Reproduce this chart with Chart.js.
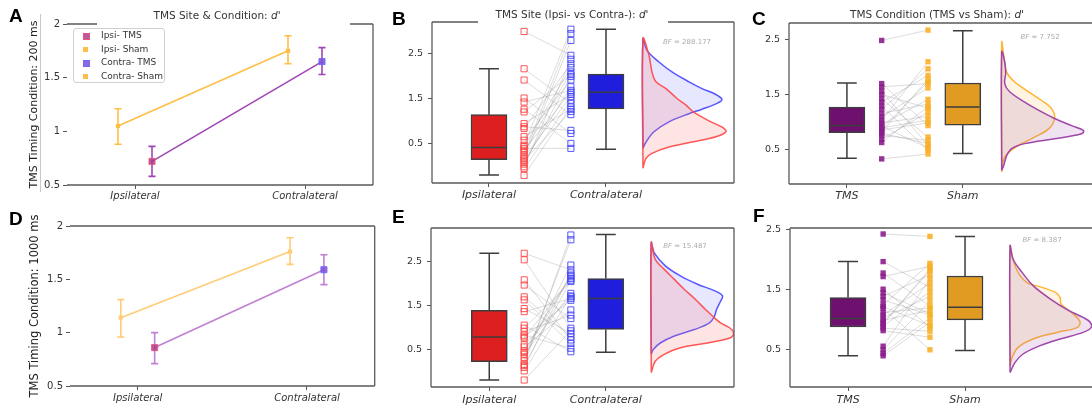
<!DOCTYPE html>
<html lang="en">
<head>
  <meta charset="UTF-8" />
  <title>TMS site and condition: d'</title>
  <script src="https://cdn.jsdelivr.net/npm/chart.js"></script>
  <style>
    body {
      margin: 0;
      width: 1092px;
      height: 408px;
      overflow: hidden;
      position: relative;
      background: #fff;
      font-family: "DejaVu Sans", sans-serif;
    }
    canvas, .lbl { position: absolute; }
    .letter {
      font-family: "Liberation Sans", Arial, sans-serif;
      font-weight: bold;
      font-size: 19px;
      line-height: 19px;
      color: #000;
    }
    .ttl {
      font-size: 10.5px;
      line-height: 14px;
      color: #333;
      white-space: nowrap;
      transform: translateX(-50%);
    }
    .bf {
      font-size: 7px;
      line-height: 8px;
      color: #aaa;
      white-space: nowrap;
      transform: translateX(-50%);
    }
    .legend {
      position: absolute;
      left: 73px; top: 28px;
      width: 92px; height: 55px;
      border: 1px solid #d0d0d0;
      border-radius: 3px;
      background: #fff;
      font-size: 9px;
      color: #333;
      box-sizing: border-box;
    }
    .legend div { height: 13.6px; line-height: 13.6px; padding-left: 27px; position: relative; }
    .legend span {
      position: absolute; left: 9px; top: 4px;
      width: 5px; height: 5px;
    }
    .sep { position: absolute; left: 40px; top: 14px; height: 178px; border-left: 1px solid #c8c8c8; }
  </style>
</head>
<body>
  <canvas id="cA" width="356" height="205" style="left:24px;top:0px"></canvas>
  <canvas id="cD" width="356" height="205" style="left:24px;top:203px"></canvas>
  <canvas id="cB" width="350" height="205" style="left:390px;top:0px"></canvas>
  <canvas id="cE" width="350" height="205" style="left:390px;top:203px"></canvas>
  <canvas id="cC" width="360" height="205" style="left:750px;top:0px"></canvas>
  <canvas id="cF" width="360" height="205" style="left:750px;top:203px"></canvas>

  <div class="sep"></div>

  <div class="lbl letter" style="left:9px;top:6px">A</div>
  <div class="lbl letter" style="left:392px;top:9px">B</div>
  <div class="lbl letter" style="left:752px;top:9px">C</div>
  <div class="lbl letter" style="left:9px;top:209px">D</div>
  <div class="lbl letter" style="left:392px;top:207px">E</div>
  <div class="lbl letter" style="left:753px;top:206px">F</div>

  <div class="lbl ttl" style="left:217px;top:8px">TMS Site &amp; Condition: <i>d'</i></div>
  <div class="lbl ttl" style="left:572px;top:7px">TMS Site (Ipsi- vs Contra-): <i>d'</i></div>
  <div class="lbl ttl" style="left:937px;top:7px">TMS Condition (TMS vs Sham): <i>d'</i></div>

  <div class="lbl bf" id="bfB" style="left:687px;top:38px"></div>
  <div class="lbl bf" id="bfC" style="left:1040px;top:33px"></div>
  <div class="lbl bf" id="bfE" style="left:685px;top:242px"></div>
  <div class="lbl bf" id="bfF" style="left:1042px;top:236px"></div>

  <div class="legend" id="legendA"></div>

  <script>
    // ---------- data ----------
    const sites = ['Ipsilateral', 'Contralateral'];
    const conditions = ['TMS', 'Sham'];
    const legendLabels = ['Ipsi- TMS', 'Ipsi- Sham', 'Contra- TMS', 'Contra- Sham'];

    // group means with error-bar limits, per site [ipsi, contra]
    const tmsMean200 = [0.72, 1.65];
    const tmsErr200 = [[0.58, 0.86], [1.53, 1.78]];
    const shamMean200 = [1.05, 1.75];
    const shamErr200 = [[0.88, 1.21], [1.63, 1.89]];
    const tmsMean1000 = [0.86, 1.59];
    const tmsErr1000 = [[0.71, 1.00], [1.45, 1.73]];
    const shamMean1000 = [1.14, 1.76];
    const shamErr1000 = [[0.96, 1.31], [1.64, 1.89]];
    const meanTicks = [0.5, 1, 1.5, 2];
    const cloudTicks = [0.5, 1.5, 2.5];

    // per-subject d' (index i is the same subject in both lists)
    const ipsi200 = [3.00, 2.17, 1.92, 1.52, 1.43, 1.27, 1.21, 0.95, 0.88, 0.84, 0.66, 0.58, 0.47,
                     0.40, 0.32, 0.21, 0.17, 0.10, -0.01, -0.05, -0.20, 0.25, 0.05, 0.36, 0.14, 0.44];
    const contra200 = [2.47, 1.40, 1.15, 0.73, 1.69, 0.51, 2.04, 1.60, 0.80, 2.28, 1.27, 1.92, 3.05,
                       0.40, 2.10, 1.55, 2.80, 1.77, 2.38, 1.47, 1.32, 2.95, 2.00, 1.65, 1.22, 2.20];
    const ipsi1000 = [2.70, 2.55, 2.09, 1.97, 1.70, 1.63, 1.43, 1.36, 1.05, 0.98, 0.90, 0.82, 0.75,
                      0.55, 0.46, 0.38, 0.31, 0.23, 0.15, 0.08, 0.00, -0.21, 0.60, 0.12, 0.78, 0.42];
    const contra1000 = [2.32, 0.98, 0.71, 1.20, 0.78, 0.63, 0.86, 1.66, 0.44, 2.05, 1.28, 0.52, 2.12,
                        1.40, 2.20, 1.78, 2.43, 3.01, 3.12, 2.25, 1.72, 0.92, 1.70, 2.08, 1.62, 2.16];
    const tms200 = [2.49, 1.70, 1.64, 1.56, 1.50, 1.42, 1.36, 1.29, 1.23, 1.15, 1.09, 1.03, 0.95, 0.89,
                    0.81, 0.75, 0.68, 0.62, 0.32, 0.87, 0.92, 0.98, 0.85, 0.79];
    const sham200 = [2.68, 0.93, 1.70, 0.57, 1.25, 0.72, 1.85, 0.48, 1.97, 1.33, 1.62, 2.10, 1.41, 1.03,
                     1.78, 0.66, 1.18, 1.28, 0.41, 1.73, 0.52, 1.10, 0.98, 0.60];
    const tms1000 = [2.43, 1.97, 1.78, 1.72, 1.51, 1.39, 1.33, 1.25, 1.19, 1.08, 1.03, 0.99, 0.89, 0.82,
                     0.56, 0.50, 0.44, 0.40, 1.12, 0.95, 0.86, 1.45, 1.22, 0.93];
    const sham1000 = [2.39, 1.54, 1.23, 1.89, 0.88, 1.75, 1.08, 1.94, 0.50, 1.61, 1.39, 1.16, 1.47, 0.71,
                      1.68, 1.31, 1.03, 0.96, 1.20, 1.82, 0.81, 1.10, 0.90, 1.85];

    // box stats: [low whisker, q1, median, q3, high whisker]
    const ipsiBox200 = [-0.19, 0.15, 0.42, 1.15, 2.17];
    const contraBox200 = [0.38, 1.28, 1.65, 2.05, 3.05];
    const ipsiBox1000 = [-0.21, 0.21, 0.78, 1.39, 2.70];
    const contraBox1000 = [0.43, 0.95, 1.66, 2.12, 3.13];
    const tmsBox200 = [0.33, 0.80, 0.93, 1.27, 1.71];
    const shamBox200 = [0.42, 0.94, 1.27, 1.71, 2.67];
    const tmsBox1000 = [0.40, 0.88, 1.02, 1.37, 1.97];
    const shamBox1000 = [0.49, 1.00, 1.21, 1.73, 2.39];

    // half-violin densities: d' levels and the density at each level
    const ipsiLv200 = [-0.04, 0.18, 0.29, 0.43, 0.54, 0.66, 0.77, 0.86, 0.99, 1.20, 1.36, 1.51, 1.73, 1.88, 2.10, 2.47, 2.84];
    const ipsiDen200 = [0, 0.03, 0.09, 0.26, 0.49, 0.73, 0.83, 0.80, 0.68, 0.51, 0.43, 0.34, 0.23, 0.13, 0.09, 0.06, 0];
    const contraLv200 = [0.40, 0.54, 0.77, 0.99, 1.17, 1.27, 1.40, 1.49, 1.62, 1.73, 1.88, 2.10, 2.32, 2.58, 2.84];
    const contraDen200 = [0, 0.03, 0.11, 0.26, 0.46, 0.59, 0.74, 0.79, 0.71, 0.59, 0.46, 0.29, 0.16, 0.04, 0];
    const ipsiLv1000 = [-0.04, 0.22, 0.38, 0.53, 0.64, 0.76, 0.87, 0.99, 1.10, 1.26, 1.41, 1.64, 1.87, 2.10, 2.33, 2.56, 2.94];
    const ipsiDen1000 = [0, 0.04, 0.13, 0.29, 0.56, 0.79, 0.82, 0.78, 0.69, 0.61, 0.54, 0.44, 0.33, 0.23, 0.13, 0.04, 0];
    const contraLv1000 = [0.38, 0.49, 0.64, 0.80, 0.95, 1.10, 1.26, 1.41, 1.60, 1.72, 1.83, 1.99, 2.18, 2.41, 2.71, 2.94];
    const contraDen1000 = [0, 0.02, 0.09, 0.23, 0.43, 0.58, 0.63, 0.65, 0.69, 0.71, 0.64, 0.46, 0.29, 0.14, 0.03, 0];
    const tmsLv200 = [0.11, 0.20, 0.38, 0.51, 0.60, 0.69, 0.78, 0.84, 0.93, 1.06, 1.18, 1.36, 1.55, 1.70, 1.90, 2.10, 2.28];
    const tmsDen200 = [0, 0.02, 0.05, 0.10, 0.23, 0.53, 0.80, 0.82, 0.70, 0.53, 0.40, 0.23, 0.08, 0.03, 0.04, 0.03, 0];
    const shamLv200 = [0.08, 0.32, 0.44, 0.57, 0.72, 0.87, 1.06, 1.24, 1.39, 1.55, 1.73, 1.91, 2.22, 2.46];
    const shamDen200 = [0, 0.02, 0.07, 0.17, 0.33, 0.47, 0.53, 0.50, 0.40, 0.27, 0.13, 0.05, 0.02, 0];
    const tmsLv1000 = [0.12, 0.29, 0.43, 0.57, 0.68, 0.79, 0.87, 0.96, 1.04, 1.16, 1.35, 1.57, 1.79, 2.01, 2.23];
    const tmsDen1000 = [0, 0.05, 0.13, 0.30, 0.50, 0.73, 0.81, 0.80, 0.73, 0.58, 0.40, 0.23, 0.12, 0.03, 0];
    const shamLv1000 = [0.23, 0.37, 0.54, 0.68, 0.79, 0.87, 0.96, 1.07, 1.18, 1.26, 1.37, 1.46, 1.54, 1.62, 1.79, 2.01, 2.23];
    const shamDen1000 = [0, 0.02, 0.08, 0.23, 0.47, 0.67, 0.70, 0.65, 0.57, 0.51, 0.50, 0.45, 0.32, 0.17, 0.08, 0.03, 0];

    // Bayes factors printed beside the densities
    const bayesFactors = { B: '288.177', C: '7.752', E: '15.487', F: '8.387' };

    // ---------- drawing ----------
    const FONT = '"DejaVu Sans", sans-serif';
    const EDGE = '#3d3d3d';
    const RED = 'rgba(255,70,70,0.9)', BLUE = 'rgba(70,70,255,0.9)';

    // axis spines drawn by hand so the top edge can break behind a title
    const frame = {
      id: 'frame',
      defaults: { color: '#5a5a5a', width: 1.3, left: true, topGaps: [] },
      afterDraw(chart, args, o) {
        const { ctx, chartArea: a } = chart;
        ctx.save();
        ctx.strokeStyle = o.color;
        ctx.lineWidth = o.width;
        ctx.beginPath();
        let x0 = a.left;
        o.topGaps.forEach(([g0, g1]) => {
          ctx.moveTo(x0, a.top); ctx.lineTo(a.left + g0, a.top); x0 = a.left + g1;
        });
        ctx.moveTo(x0, a.top); ctx.lineTo(a.right, a.top);
        ctx.moveTo(a.left, a.bottom); ctx.lineTo(a.right, a.bottom);
        ctx.moveTo(a.right, a.top); ctx.lineTo(a.right, a.bottom);
        if (o.left) { ctx.moveTo(a.left, a.top); ctx.lineTo(a.left, a.bottom); }
        ctx.stroke();
        ctx.restore();
      }
    };

    function scales(p) {
      return {
        x: {
          type: 'linear', min: p.x[0], max: p.x[1], offset: false,
          border: { display: false },
          grid: { drawOnChartArea: false, offset: false, color: '#555', tickLength: 4 },
          ticks: {
            autoSkip: false, maxRotation: 0, padding: p.xPad, color: '#333',
            font: { family: FONT, size: p.xFont, style: 'italic' },
            callback: v => p.names[v]
          },
          afterBuildTicks: s => { s.ticks = p.names.map((n, i) => ({ value: i })); },
          afterFit: s => { s.height = p.xh; }
        },
        y: {
          type: 'linear', min: p.y[0], max: p.y[1],
          border: { display: false },
          grid: { drawOnChartArea: false, offset: false, color: '#555', tickLength: 4 },
          ticks: {
            autoSkip: false, padding: p.yPad, color: '#333',
            font: { family: FONT, size: p.yFont },
            callback: v => String(v)
          },
          title: p.yTitle
            ? { display: true, text: p.yTitle, color: '#222', font: { family: FONT, size: p.yTitleSize }, padding: { top: 4, bottom: 4 } }
            : { display: false },
          afterBuildTicks: s => { s.ticks = p.yTicks.map(v => ({ value: v })); },
          afterFit: s => { s.width = p.yw; }
        }
      };
    }

    function options(p) {
      return {
        responsive: false,
        animation: false,
        events: [],
        layout: { padding: { top: p.pt, right: p.pr, left: 0, bottom: 0 } },
        plugins: {
          legend: { display: false },
          tooltip: { enabled: false },
          frame: { left: p.leftSpine, topGaps: p.gaps || [] }
        },
        scales: scales(p)
      };
    }

    // error bar stems and caps as one broken line
    function errorPath(errs, dx, cap) {
      const pts = [];
      errs.forEach((e, i) => {
        const x = i + dx;
        pts.push({ x, y: e[0] }, { x, y: e[1] }, { x, y: null },
                 { x: x - cap, y: e[0] }, { x: x + cap, y: e[0] }, { x, y: null },
                 { x: x - cap, y: e[1] }, { x: x + cap, y: e[1] }, { x, y: null });
      });
      return pts;
    }

    function meansChart(id, p) {
      const off = 0.1, cap = 0.021;
      const line = (data, color, order) => ({
        type: 'line', data, borderColor: color, borderWidth: 1.6, pointRadius: 0, tension: 0, order
      });
      const mark = (x, y, fill, edge, r) => ({
        type: 'scatter', data: [{ x, y }], pointStyle: 'rect', pointRadius: r,
        backgroundColor: fill, borderColor: edge, borderWidth: edge ? 1 : 0, order: 1
      });
      new Chart(document.getElementById(id), {
        type: 'scatter',
        data: {
          datasets: [
            line(p.sham.map((m, i) => ({ x: i - off, y: m })), p.shamCol, 6),
            line(p.tms.map((m, i) => ({ x: i + off, y: m })), p.tmsCol, 5),
            line(errorPath(p.shamErr, -off, cap), p.shamCol, 4),
            line(errorPath(p.tmsErr, off, cap), p.tmsCol, 3),
            mark(-off, p.sham[0], p.shamCol, null, 3),
            mark(1 - off, p.sham[1], p.shamCol, null, 3),
            mark(off, p.tms[0], 'rgba(175,60,140,0.85)', 'rgba(235,85,120,0.9)', 4.3),
            mark(1 + off, p.tms[1], 'rgba(125,80,215,0.85)', 'rgba(105,105,255,0.9)', 4.3)
          ]
        },
        options: options(p),
        plugins: [frame]
      });
    }

    function cloudChart(id, p) {
      const cap = 0.085, half = 0.145;
      const datasets = [];

      // paired subject lines between the two point columns
      const pairs = [];
      p.a.forEach((v, i) => {
        pairs.push({ x: p.jit[0], y: v }, { x: p.jit[1], y: p.b[i] }, { x: p.jit[1], y: null });
      });
      datasets.push({ type: 'line', data: pairs, borderColor: 'rgba(140,140,140,0.3)', borderWidth: 1, pointRadius: 0, order: 9 });

      // half-violin densities to the right of the boxes
      p.dens.forEach((d, k) => {
        const pts = d.lv.map((y, i) => ({ x: p.base + d.v[i] * p.dScale, y }));
        pts.push({ x: p.base, y: d.lv[0] });
        datasets.push({
          type: 'line', data: pts, borderColor: p.denLine[k], backgroundColor: p.denFill[k],
          fill: 'shape', borderWidth: 1.5, pointRadius: 0, tension: 0.35, order: 7 + k
        });
      });

      // boxes (q1..q3)
      datasets.push({
        type: 'bar', data: p.box.map((s, i) => ({ x: i, y: [s[1], s[3]] })),
        backgroundColor: p.boxCol, borderColor: EDGE, borderWidth: 1.5, borderSkipped: false,
        barThickness: 36, order: 4
      });

      // whiskers, caps and medians
      const wk = [];
      p.box.forEach((s, x) => {
        wk.push({ x, y: s[0] }, { x, y: s[1] }, { x, y: null },
                { x, y: s[3] }, { x, y: s[4] }, { x, y: null },
                { x: x - cap, y: s[0] }, { x: x + cap, y: s[0] }, { x, y: null },
                { x: x - cap, y: s[4] }, { x: x + cap, y: s[4] }, { x, y: null },
                { x: x - half, y: s[2] }, { x: x + half, y: s[2] }, { x, y: null });
      });
      datasets.push({ type: 'line', data: wk, borderColor: EDGE, borderWidth: 1.5, pointRadius: 0, order: 3 });

      // subject points
      [p.a, p.b].forEach((vals, k) => {
        datasets.push({
          type: 'scatter', data: vals.map(y => ({ x: p.jit[k], y })), pointStyle: 'rect',
          pointRadius: p.hollow ? 4.3 : 3.8,
          backgroundColor: p.hollow ? 'rgba(255,255,255,0)' : p.ptCol[k],
          borderColor: p.ptCol[k], borderWidth: p.hollow ? 1 : 0, order: 1
        });
      });

      new Chart(document.getElementById(id), {
        type: 'scatter',
        data: { datasets },
        options: options(p),
        plugins: [frame]
      });
    }

    const shamLine200 = 'rgb(255,190,70)', tmsLine200 = 'rgb(160,70,180)';
    const shamLine1000 = 'rgb(255,204,120)', tmsLine1000 = 'rgb(192,128,212)';

    meansChart('cA', {
      sham: shamMean200, shamErr: shamErr200, tms: tmsMean200, tmsErr: tmsErr200,
      shamCol: shamLine200, tmsCol: tmsLine200,
      names: sites, x: [-0.4, 1.4], y: [0.5, 2], yTicks: meanTicks,
      yw: 43, xh: 20, pt: 24, pr: 7, xPad: 1, yPad: 3, xFont: 10, yFont: 10,
      yTitle: 'TMS Timing Condition: 200 ms', yTitleSize: 11,
      leftSpine: false, gaps: [[30, 283]]
    });
    meansChart('cD', {
      sham: shamMean1000, shamErr: shamErr1000, tms: tmsMean1000, tmsErr: tmsErr1000,
      shamCol: shamLine1000, tmsCol: tmsLine1000,
      names: sites, x: [-0.4, 1.4], y: [0.5, 2], yTicks: meanTicks,
      yw: 46, xh: 22, pt: 23, pr: 5, xPad: 2, yPad: 3, xFont: 10, yFont: 10,
      yTitle: 'TMS Timing Condition: 1000 ms', yTitleSize: 11.5,
      leftSpine: false
    });

    const siteDen = { line: [RED, BLUE], fill: ['rgba(255,120,120,0.2)', 'rgba(110,110,255,0.17)'] };
    const condDen = { line: ['rgb(160,70,170)', 'rgb(255,180,50)'], fill: ['rgba(160,90,180,0.17)', 'rgba(255,200,110,0.2)'] };

    cloudChart('cB', {
      a: ipsi200, b: contra200, box: [ipsiBox200, contraBox200],
      dens: [{ lv: ipsiLv200, v: ipsiDen200 }, { lv: contraLv200, v: contraDen200 }],
      boxCol: ['#dd1e1e', '#1e1edc'], ptCol: [RED, BLUE], hollow: true,
      denLine: siteDen.line, denFill: siteDen.fill,
      jit: [0.3, 0.7], base: 1.316, dScale: 0.855,
      names: sites, x: [-0.487, 2.094], y: [-0.37, 3.21], yTicks: cloudTicks,
      yw: 42, xh: 22, pt: 22, pr: 6, xPad: 2, yPad: 5, xFont: 11, yFont: 9.5,
      leftSpine: true, gaps: [[46, 236]]
    });
    cloudChart('cE', {
      a: ipsi1000, b: contra1000, box: [ipsiBox1000, contraBox1000],
      dens: [{ lv: ipsiLv1000, v: ipsiDen1000 }, { lv: contraLv1000, v: contraDen1000 }],
      boxCol: ['#dd1e1e', '#1e1edc'], ptCol: [RED, BLUE], hollow: true,
      denLine: siteDen.line, denFill: siteDen.fill,
      jit: [0.3, 0.7], base: 1.39, dScale: 0.862,
      names: sites, x: [-0.5, 2.1], y: [-0.37, 3.28], yTicks: cloudTicks,
      yw: 41, xh: 21, pt: 25, pr: 6, xPad: 3, yPad: 5, xFont: 11, yFont: 9.5,
      leftSpine: true
    });
    cloudChart('cC', {
      a: tms200, b: sham200, box: [tmsBox200, shamBox200],
      dens: [{ lv: tmsLv200, v: tmsDen200 }, { lv: shamLv200, v: shamDen200 }],
      boxCol: ['#6e106e', '#e19b23'], ptCol: ['rgba(140,30,140,0.9)', 'rgba(250,176,40,0.9)'], hollow: false,
      denLine: condDen.line, denFill: condDen.fill,
      jit: [0.3, 0.7], base: 1.336, dScale: 0.862,
      names: conditions, x: [-0.5, 2.15], y: [-0.14, 2.81], yTicks: cloudTicks,
      yw: 39, xh: 21, pt: 23, pr: 14, xPad: 2, yPad: 5, xFont: 11, yFont: 9.5,
      leftSpine: true
    });
    cloudChart('cF', {
      a: tms1000, b: sham1000, box: [tmsBox1000, shamBox1000],
      dens: [{ lv: tmsLv1000, v: tmsDen1000 }, { lv: shamLv1000, v: shamDen1000 }],
      boxCol: ['#6e106e', '#e19b23'], ptCol: ['rgba(140,30,140,0.9)', 'rgba(250,176,40,0.9)'], hollow: false,
      denLine: condDen.line, denFill: condDen.fill,
      jit: [0.3, 0.7], base: 1.385, dScale: 0.855,
      names: conditions, x: [-0.496, 2.128], y: [-0.12, 2.53], yTicks: cloudTicks,
      yw: 40, xh: 21, pt: 25, pr: 13, xPad: 3, yPad: 5, xFont: 11, yFont: 9.5,
      leftSpine: true
    });

    // Bayes factor notes and the panel A legend
    Object.entries(bayesFactors).forEach(([k, v]) => {
      document.getElementById('bf' + k).innerHTML = '<i>BF</i> = ' + v;
    });
    const legendMarks = [
      'background:rgba(175,60,140,0.85);border:1px solid rgba(235,85,120,0.9)',
      'background:' + shamLine200,
      'background:rgba(125,80,215,0.85);border:1px solid rgba(105,105,255,0.9)',
      'background:' + shamLine200
    ];
    document.getElementById('legendA').innerHTML = legendLabels
      .map((t, i) => '<div><span style="' + legendMarks[i] + '"></span>' + t + '</div>')
      .join('');
  </script>
</body>
</html>
